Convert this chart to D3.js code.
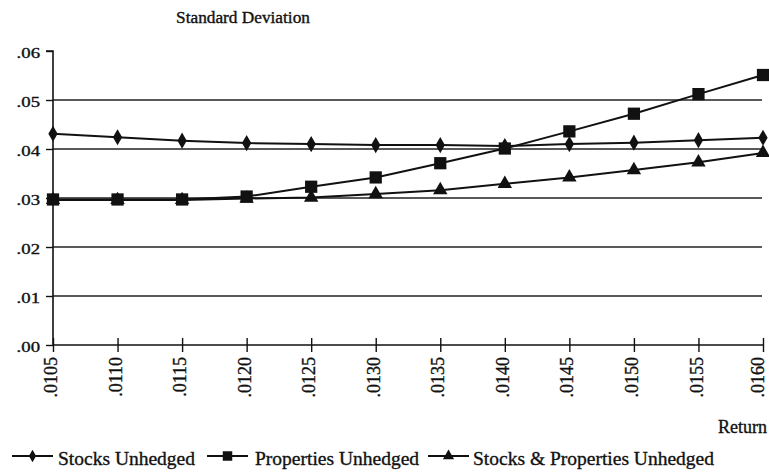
<!DOCTYPE html>
<html><head><meta charset="utf-8">
<script src="https://cdn.jsdelivr.net/npm/d3@7"></script>
<style>
html,body{margin:0;padding:0;background:#fff;}
svg{display:block;}
text{font-family:"Liberation Serif","Times New Roman",serif;fill:#111;stroke:#111;stroke-width:0.35px;}
</style></head>
<body>
<script>
const returns = [0.0105,0.0110,0.0115,0.0120,0.0125,0.0130,0.0135,0.0140,0.0145,0.0150,0.0155,0.0160];
const returnLabels = [".0105",".0110",".0115",".0120",".0125",".0130",".0135",".0140",".0145",".0150",".0155",".0160"];
const stocksUnhedged = [0.0431,0.0424,0.0417,0.0412,0.0410,0.0408,0.0408,0.0406,0.0410,0.0413,0.0418,0.0423];
const propertiesUnhedged = [0.0297,0.0297,0.0297,0.0303,0.0323,0.0342,0.0371,0.0401,0.0436,0.0472,0.0512,0.0551];
const stocksPropertiesUnhedged = [0.0296,0.0296,0.0296,0.0299,0.0301,0.0308,0.0316,0.0329,0.0342,0.0357,0.0373,0.0392];
const yTicks = [0,0.01,0.02,0.03,0.04,0.05,0.06];
const yTickLabels = [".00",".01",".02",".03",".04",".05",".06"];
const gridValues = [0.01,0.02,0.03,0.04,0.05];
const seriesNames = ["Stocks Unhedged","Properties Unhedged","Stocks & Properties Unhedged"];
const seriesSymbols = ["diamond","square","triangle"];

const W=769,H=472;
const svg=d3.select("body").append("svg").attr("width",W).attr("height",H);
const x=d3.scaleLinear().domain([0.0105,0.0160]).range([53,763]);
const y=d3.scaleLinear().domain([0,0.06]).range([345,51]);

// gridlines
svg.append("g").selectAll("line").data(gridValues).join("line")
  .attr("x1",x(0.0105)).attr("x2",762).attr("y1",d=>y(d)).attr("y2",d=>y(d))
  .attr("stroke","#222").attr("stroke-width",1.4);

// y axis
const yAxis=d3.axisLeft(y).tickValues(yTicks).tickFormat((d,i)=>yTickLabels[i]).tickSize(7).tickPadding(6);
const gy=svg.append("g").attr("transform",`translate(${x(0.0105)},0)`).call(yAxis);
gy.select(".domain").attr("stroke","#111").attr("stroke-width",1.6).attr("d",`M-7,${y(0.06)}H0V${y(0)}`);
gy.selectAll(".tick line").attr("stroke","#111").attr("stroke-width",1.4);
gy.selectAll(".tick text").attr("font-size",15).attr("fill","#111")
  .attr("transform","scale(1.25,1)").attr("x",-13/1.25).attr("dy","0.45em");

// x axis
const xAxis=d3.axisBottom(x).tickValues(returns).tickFormat((d,i)=>returnLabels[i]).tickSize(7).tickPadding(6);
const gx=svg.append("g").attr("transform",`translate(0,${y(0)})`).call(xAxis);
gx.select(".domain").attr("stroke","#111").attr("stroke-width",1.6).attr("d",`M${x(0.0105)},0H${x(0.0160)}`);
gx.selectAll(".tick line").attr("stroke","#111").attr("stroke-width",1.4).attr("y1",-7).attr("y2",7);
gx.selectAll(".tick text").attr("font-size",18).attr("fill","#111")
  .attr("text-anchor","end").attr("transform","rotate(-90)").attr("x",-12).attr("y",0)
  .attr("dy",(d,i)=>i===returns.length-1?"0.02em":"0.2em");

// titles
svg.append("text").attr("x",243).attr("y",23).attr("text-anchor","middle").attr("font-size",16)
  .attr("transform","translate(243,0) scale(1.08,1) translate(-243,0)").text("Standard Deviation");
svg.append("text").attr("x",767).attr("y",433).attr("text-anchor","end").attr("font-size",18).text("Return");

// series
const series=[stocksUnhedged,propertiesUnhedged,stocksPropertiesUnhedged];
const symTypes={diamond:d3.symbolDiamond,square:d3.symbolSquare,triangle:d3.symbolTriangle};
const symSizes={diamond:75,square:150,triangle:90};
const line=d3.line().x((d,i)=>x(returns[i])).y(d=>y(d));
series.forEach((vals,k)=>{
  svg.append("path").datum(vals).attr("d",line).attr("fill","none").attr("stroke","#111").attr("stroke-width",2);
});
series.forEach((vals,k)=>{
  const s=seriesSymbols[k];
  svg.append("g").selectAll("path").data(vals).join("path")
    .attr("transform",(d,i)=>`translate(${x(returns[i])},${y(d)})`)
    .attr("d",d3.symbol().type(symTypes[s]).size(symSizes[s])).attr("fill","#111");
});

// legend
const legX=[12,207,428], legTextX=[58,255,473];
seriesNames.forEach((n,k)=>{
  const g=svg.append("g");
  g.append("line").attr("x1",legX[k]).attr("x2",legX[k]+41).attr("y1",456).attr("y2",456).attr("stroke","#111").attr("stroke-width",2);
  g.append("path").attr("transform",`translate(${legX[k]+20.5},456)`)
    .attr("d",d3.symbol().type(symTypes[seriesSymbols[k]]).size(symSizes[seriesSymbols[k]]*0.6)).attr("fill","#111");
  g.append("text").attr("x",legTextX[k]).attr("y",465).attr("font-size",19.5).text(n);
});
</script>
</body></html>
